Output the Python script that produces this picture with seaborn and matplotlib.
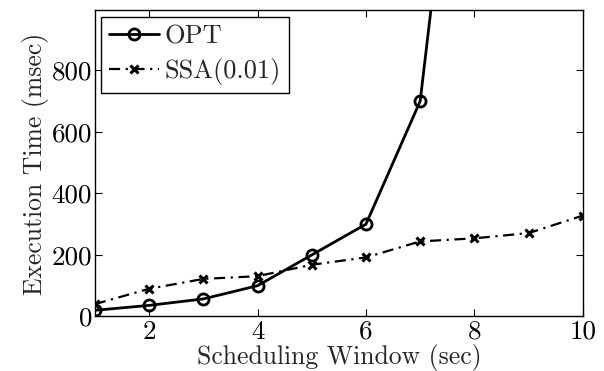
import matplotlib
matplotlib.use("Agg")
import matplotlib.pyplot as plt
import seaborn as sns
import pandas as pd

# Data
opt_x = [1, 2, 3, 4, 5, 6, 7, 8]
opt_y = [20, 36, 57, 100, 200, 300, 700, 2200]
ssa_x = [1, 2, 3, 4, 5, 6, 7, 8, 9, 10]
ssa_y = [40, 90, 122, 131, 168, 192, 244, 254, 271, 328]
x_ticks = [2, 4, 6, 8, 10]
y_ticks = [0, 200, 400, 600, 800]

sns.set_style("ticks")
plt.rcParams["font.family"] = ["cmr10", "DejaVu Serif"]
plt.rcParams["axes.formatter.use_mathtext"] = True
plt.rcParams["mathtext.fontset"] = "cm"

FS = 18.5
TFS = 19.5

fig = plt.figure(figsize=(6.04, 3.71), dpi=100)
ax = fig.add_axes([0.157, 0.147, 0.808, 0.825])

df_opt = pd.DataFrame({"x": opt_x, "y": opt_y})
df_ssa = pd.DataFrame({"x": ssa_x, "y": ssa_y})

sns.lineplot(data=df_opt, x="x", y="y", ax=ax, color="black", linewidth=2,
             marker="o", markersize=8, markerfacecolor="none",
             markeredgecolor="black", markeredgewidth=2, label="OPT")
sns.lineplot(data=df_ssa, x="x", y="y", ax=ax, color="black", linewidth=1.6,
             dashes=False, marker="x", markersize=6,
             markeredgecolor="black", markeredgewidth=2.2, label="SSA(0.01)")
ax.lines[1].set_linestyle((0, (5, 2.5, 1, 2.5)))

ax.set_xlim(1, 10)
ax.set_ylim(0, 995)
ax.set_xticks(x_ticks)
ax.set_yticks(y_ticks)
ax.set_xticklabels([str(v) for v in x_ticks])
ax.set_yticklabels([str(v) for v in y_ticks])
ax.tick_params(direction="in", top=True, right=True, labelsize=TFS,
               length=5, width=0.8, colors="black")
ax.tick_params(axis="x", pad=2.5)
ax.tick_params(axis="y", pad=2)
for s in ax.spines.values():
    s.set_visible(True)
    s.set_color("black")
    s.set_linewidth(1.0)

ax.set_xlabel("Scheduling Window (sec)", fontsize=FS, labelpad=0.5)
ax.set_ylabel("Execution Time (msec)", fontsize=FS, labelpad=2)

leg = ax.legend(loc="upper left", fontsize=FS + 0.5, frameon=True, fancybox=False,
                edgecolor="black", framealpha=1, handlelength=1.9,
                handletextpad=0.2, borderpad=0.3, labelspacing=0.35,
                borderaxespad=0.25)
leg.get_frame().set_linewidth(1.0)
leg.get_lines()[1].set_linestyle((0, (5, 2.5, 1, 2.5)))

fig.savefig("out.png", dpi=100)
